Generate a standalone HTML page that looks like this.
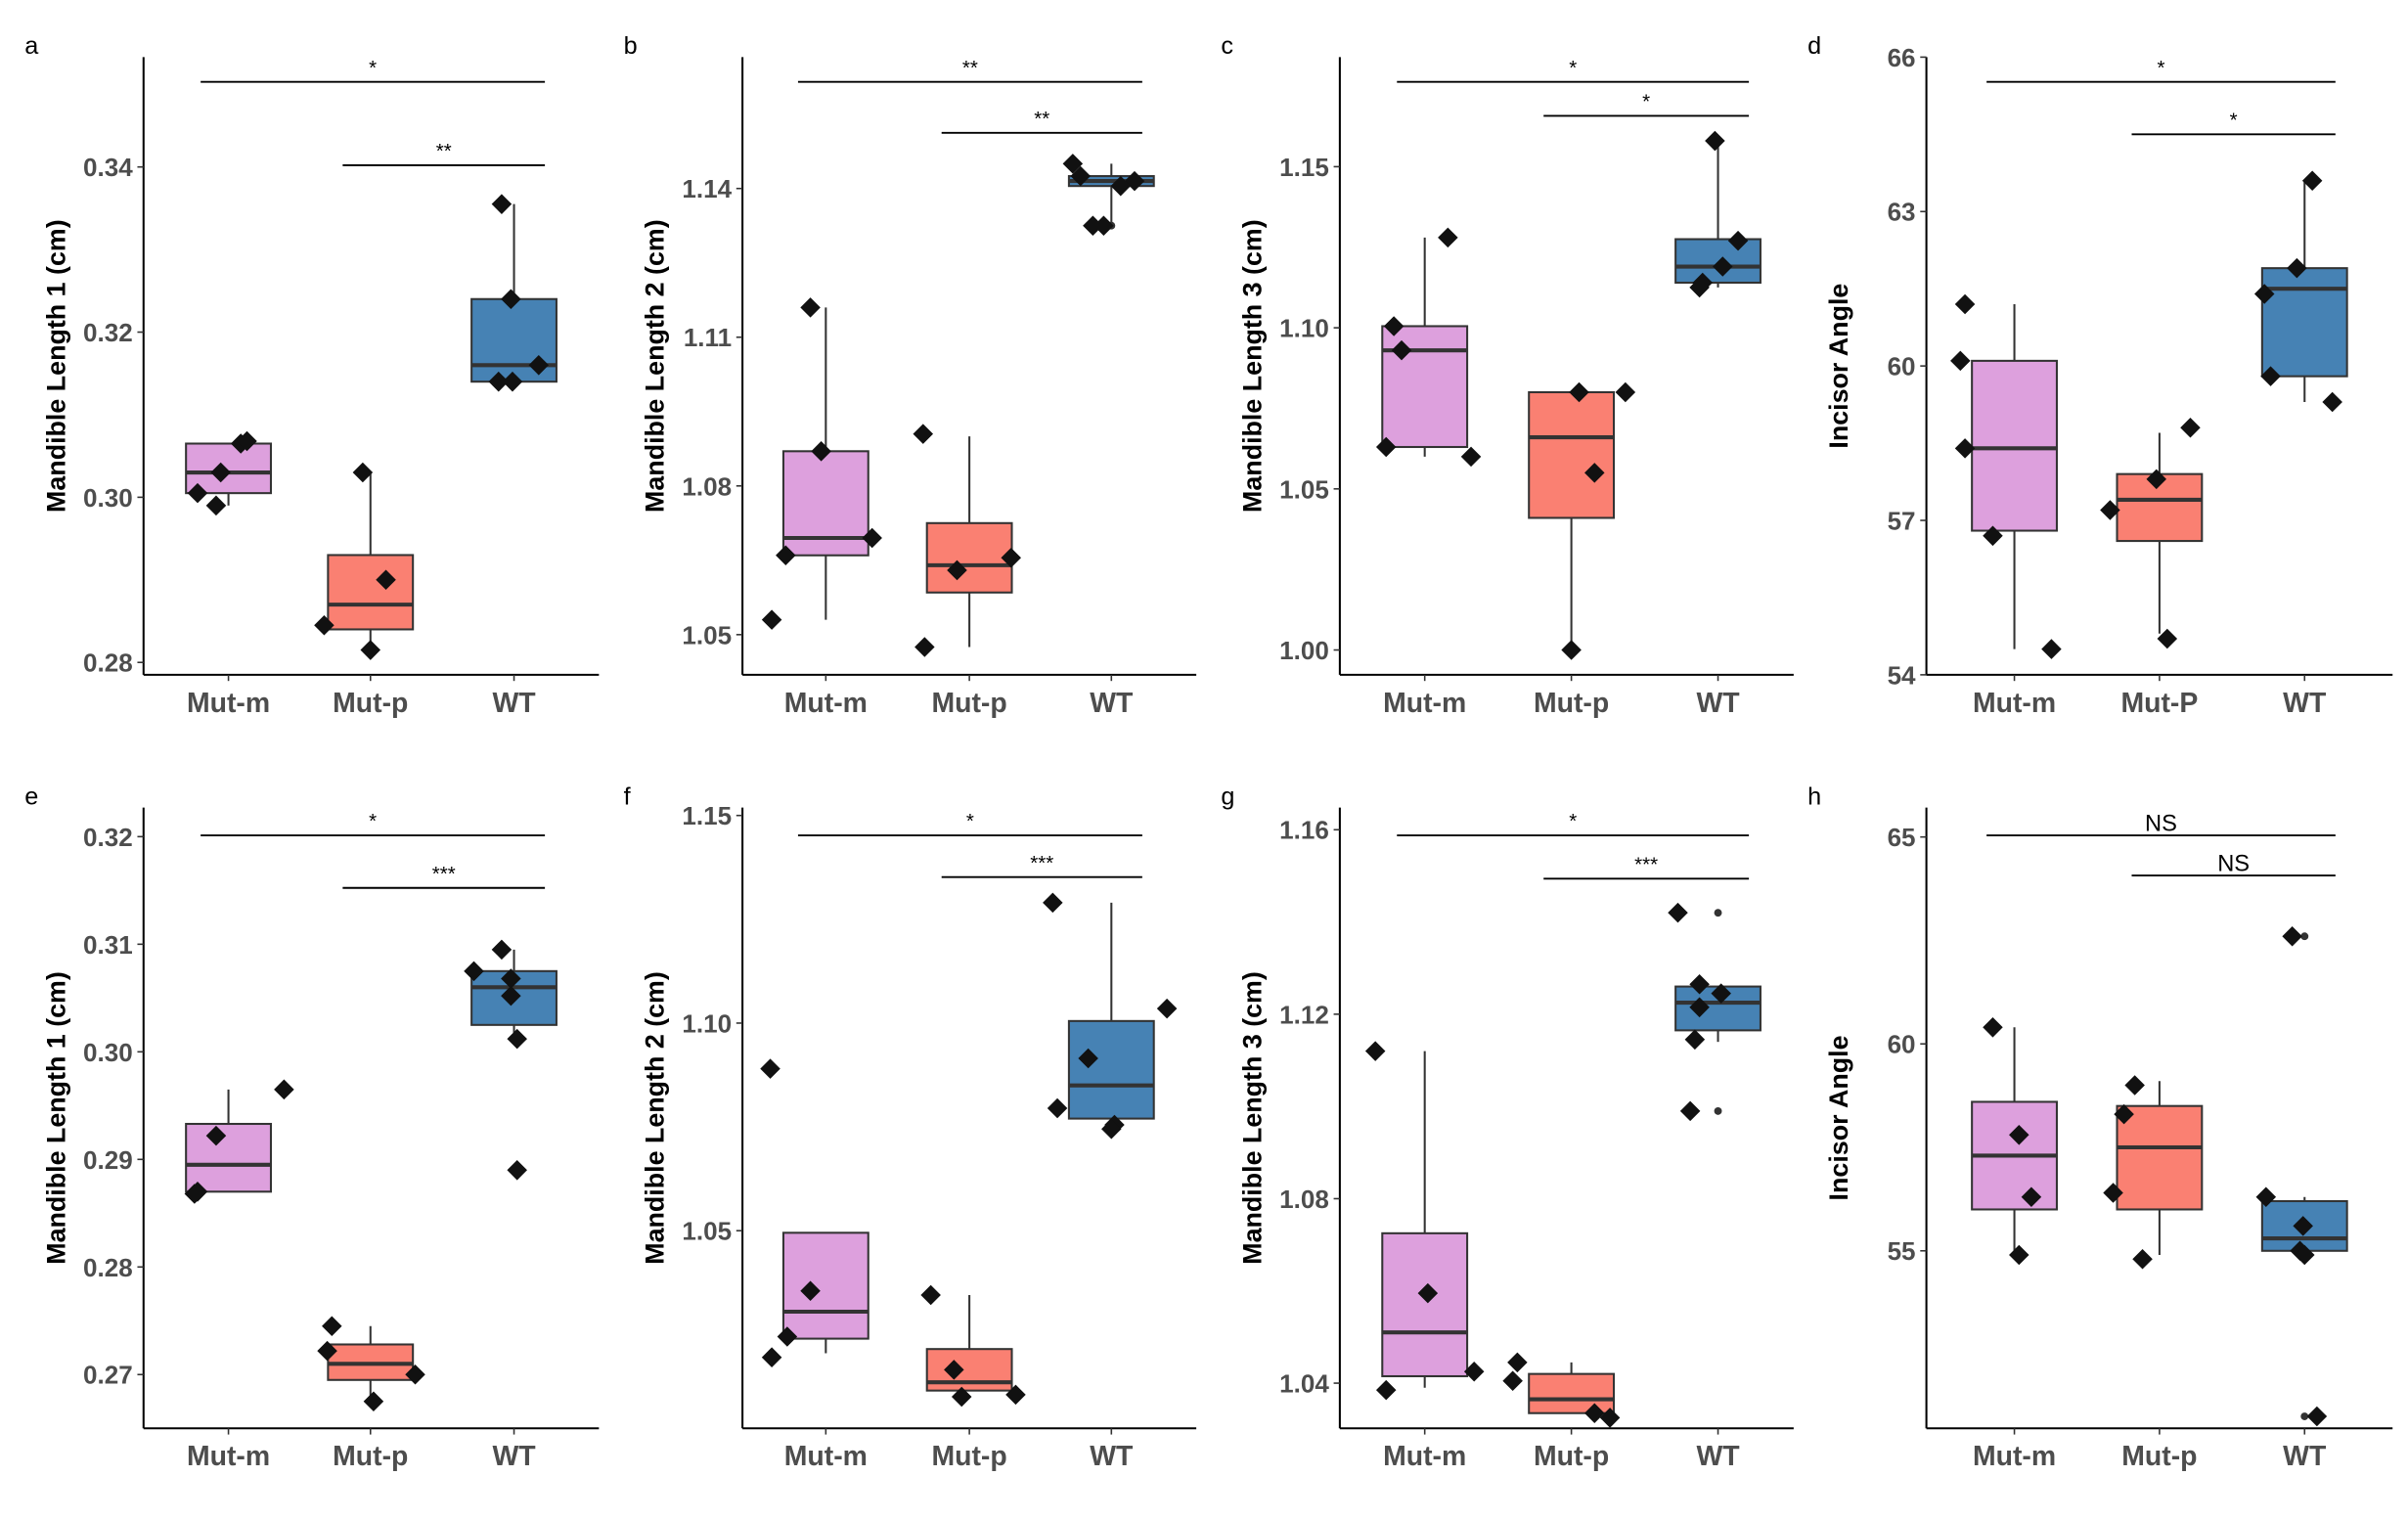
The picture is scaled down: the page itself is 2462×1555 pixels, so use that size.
<!DOCTYPE html>
<html><head><meta charset="utf-8"><style>
html,body{margin:0;padding:0;background:#fff;}
svg{display:block;}
text{font-family:"Liberation Sans",Arial,sans-serif;}
</style></head><body>
<svg id="fig" width="2462" height="1555" viewBox="0 0 1560 985" preserveAspectRatio="none" xmlns="http://www.w3.org/2000/svg"></svg>
<script>
const categories = ["Mut-m","Mut-p","WT"];
const panelLetters = ["a","b","c","d","e","f","g","h"];
const yTitles = ["Mandible Length 1 (cm)","Mandible Length 2 (cm)","Mandible Length 3 (cm)","Incisor Angle","Mandible Length 1 (cm)","Mandible Length 2 (cm)","Mandible Length 3 (cm)","Incisor Angle"];
const catLabelsD = ["Mut-m","Mut-P","WT"];
// tick values per panel
const tickValues = [
 [0.28,0.30,0.32,0.34],[1.05,1.08,1.11,1.14],[1.00,1.05,1.10,1.15],[54,57,60,63,66],
 [0.27,0.28,0.29,0.30,0.31,0.32],[1.05,1.10,1.15],[1.04,1.08,1.12,1.16],[55,60,65]];
const tickLabels = [
 ["0.28","0.30","0.32","0.34"],["1.05","1.08","1.11","1.14"],["1.00","1.05","1.10","1.15"],["54","57","60","63","66"],
 ["0.27","0.28","0.29","0.30","0.31","0.32"],["1.05","1.10","1.15"],["1.04","1.08","1.12","1.16"],["55","60","65"]];
// y domain per panel [min at axis bottom, max at axis top]
const yDomain = [[0.2785,0.3533],[1.0419,1.1665],[0.9923,1.184],[54.0,66.0],[0.265,0.3227],[1.0024,1.1519],[1.0302,1.1648],[50.71,65.71]];
// box stats per panel per category: [whiskerLow, q1, median, q3, whiskerHigh]
const boxStats = [
 [[0.299,0.3005,0.303,0.3065,0.3065],[0.2815,0.284,0.287,0.293,0.303],[0.314,0.314,0.316,0.324,0.3355]],
 [[1.053,1.066,1.0695,1.087,1.116],[1.0475,1.0585,1.064,1.0725,1.090],[1.1325,1.1405,1.1415,1.1425,1.145]],
 [[1.060,1.063,1.093,1.1005,1.128],[1.000,1.041,1.066,1.080,1.080],[1.1125,1.114,1.119,1.1275,1.158]],
 [[54.5,56.8,58.4,60.1,61.2],[54.8,56.6,57.4,57.9,58.7],[59.3,59.8,61.5,61.9,63.6]],
 [[0.287,0.287,0.2895,0.2933,0.2965],[0.2675,0.2695,0.271,0.2728,0.2745],[0.3015,0.3025,0.306,0.3075,0.3095]],
 [[1.0205,1.024,1.0305,1.0495,1.0495],[1.0115,1.0115,1.0135,1.0215,1.0345],[1.074,1.077,1.085,1.1005,1.129]],
 [[1.039,1.0415,1.051,1.0725,1.112],[1.0335,1.0335,1.0365,1.042,1.0445],[1.114,1.1165,1.1225,1.126,1.126]],
 [[55.0,56.0,57.3,58.6,60.4],[54.9,56.0,57.5,58.5,59.1],[55.0,55.0,55.3,56.2,56.3]]];
// individual observations
const pointValues = [
 [[0.3005,0.299,0.303,0.3065,0.3068],[0.303,0.2845,0.290,0.2815],[0.3355,0.324,0.316,0.314,0.314]],
 [[1.116,1.087,1.0695,1.066,1.053],[1.0905,1.063,1.0655,1.0475],[1.145,1.1425,1.1415,1.1405,1.1325,1.1325]],
 [[1.128,1.1005,1.093,1.063,1.060],[1.080,1.080,1.055,1.000],[1.158,1.127,1.119,1.114,1.1125]],
 [[61.2,60.1,58.4,56.7,54.5],[58.8,57.8,57.2,54.7],[63.6,61.9,61.4,59.8,59.3]],
 [[0.2965,0.2922,0.287,0.2868],[0.2745,0.2722,0.2675,0.270],[0.3095,0.3075,0.3068,0.3052,0.3012,0.289]],
 [[1.089,1.0355,1.0245,1.0195],[1.0345,1.0165,1.010,1.0105],[1.129,1.1035,1.0915,1.0795,1.0755,1.0745]],
 [[1.112,1.0595,1.0425,1.0385],[1.0445,1.0405,1.0335,1.0325],[1.142,1.1265,1.1245,1.1215,1.1145,1.099]],
 [[60.4,57.8,56.3,54.9],[59.0,58.3,56.4,54.8],[62.6,56.3,55.6,55.0,54.9,51.0]]];
const jitter = [
 [[-20,-8,-5,8,12],[-5,-30,10,0],[-8,-2,16,-10,-1]],
 [[-10,-3,30,-26,-35],[-30,-8,27,-29],[-25,-20,15,6,-12,-5]],
 [[15,-20,-15,-25,30],[5,35,15,0],[-2,13,3,-10,-12]],
 [[-32,-35,-32,-14,24],[20,-2,-32,5],[5,-5,-26,-22,18]],
 [[36,-8,-20,-22],[-25,-28,2,29],[-8,-26,-2,-2,2,2]],
 [[-36,-10,-25,-35],[-25,-10,-5,30],[-38,36,-15,-35,2,0]],
 [[-32,2,32,-25],[-35,-38,15,25],[-26,-12,2,-12,-15,-18]],
 [[-14,3,11,3],[-16,-23,-30,-11],[-8,-25,-1,-3,0,8]]];
const outlierValues = [[],[],[],[],[],[],[],[]];
outlierValues[1] = [[],[],[1.1325]];
outlierValues[6] = [[],[],[1.142,1.099]];
outlierValues[7] = [[],[],[62.6,51.0]];
const sigLabels = [["*","**"],["**","**"],["*","*"],["*","*"],["*","***"],["*","***"],["*","***"],["NS","NS"]];
const sigLevels = [[53,107],[53,86],[53,75],[53,87],[541,575],[541,568],[541,569],[541,567]];
const fills = ["#DDA0DD","#FA8072","#4682B4"];

const NS="http://www.w3.org/2000/svg";
const svg=document.getElementById('fig');
function el(tag,attrs,parent,txt){const e=document.createElementNS(NS,tag);for(const k in attrs)e.setAttribute(k,attrs[k]);if(txt!==undefined)e.textContent=txt;(parent||svg).appendChild(e);return e;}
const axisXs=[93,481,868,1248];
const axisEnds=[388,775,1162,1550];
const catXs=[[148,240,333],[535,628,720],[923,1018,1113],[1305,1399,1493]];
const rowTop=[37,523], rowBot=[437,925];
for(let p=0;p<8;p++){
 const col=p%4,row=Math.floor(p/4);
 const g=el('g',{});
 
 
 const top=rowTop[row],bot=rowBot[row],ax=axisXs[col];
 const y=v=>bot-(v-yDomain[p][0])/(yDomain[p][1]-yDomain[p][0])*(bot-top);
 const x=i=>catXs[col][i];
 const lt=el('text',{x:ax-77,y:top-2,'font-size':16},g,panelLetters[p]);
 
 const ya=el('line',{x1:ax,y1:top,x2:ax,y2:bot,stroke:'#000','stroke-width':1.3},g);
 
 const xa=el('line',{x1:ax,y1:bot,x2:axisEnds[col],y2:bot,stroke:'#000','stroke-width':1.3},g);
 
 tickValues[p].forEach((v,i)=>{
  el('line',{x1:ax-4,y1:y(v),x2:ax,y2:y(v),stroke:'#333','stroke-width':1},g);
  const t=el('text',{x:ax-7,y:y(v)+6,'font-size':16.5,'font-weight':'bold',fill:'#4d4d4d','text-anchor':'end'},g,tickLabels[p][i]);
  
 });
 const yt=el('text',{transform:`translate(${ax-51},${(top+bot)/2}) rotate(-90)`,'font-size':17,'font-weight':'bold','text-anchor':'middle'},g,yTitles[p]);
 
 categories.forEach((c,i)=>{
  el('line',{x1:x(i),y1:bot,x2:x(i),y2:bot+4,stroke:'#333','stroke-width':1},g);
  const t=el('text',{x:x(i),y:bot+24,'font-size':18,'font-weight':'bold',fill:'#4d4d4d','text-anchor':'middle'},g,p===3?catLabelsD[i]:c);
  
  const s=boxStats[p][i];const bw=55;
  el('line',{x1:x(i),y1:y(s[0]),x2:x(i),y2:y(s[4]),stroke:'#333','stroke-width':1.3},g);
  const r=el('rect',{x:x(i)-bw/2,y:y(s[3]),width:bw,height:Math.max(1,y(s[1])-y(s[3])),fill:fills[i],stroke:'#333','stroke-width':1.3},g);
  
  el('line',{x1:x(i)-bw/2,y1:y(s[2]),x2:x(i)+bw/2,y2:y(s[2]),stroke:'#333','stroke-width':2.6},g);
  (outlierValues[p][i]||[]).forEach(v=>{
   const o=el('circle',{cx:x(i),cy:y(v),r:2.5,fill:'#333'},g);
   
  });
  pointValues[p][i].forEach((v,k)=>{
   const px=x(i)+jitter[p][i][k],py=y(v),d=6.5;
   const m=el('polygon',{points:`${px},${py-d} ${px+d},${py} ${px},${py+d} ${px-d},${py}`,fill:'#111'},g);
   
  });
 });
 const pairs=[[0,2],[1,2]];
 pairs.forEach((pr,k)=>{
  const ly=sigLevels[p][k];
  const x1=x(pr[0])-18,x2=x(pr[1])+20;
  const l=el('line',{x1:x1,y1:ly,x2:x2,y2:ly,stroke:'#000','stroke-width':1.2},g);
  
  const isNS=sigLabels[p][k]==='NS';
  const t=el('text',{x:(x1+x2)/2,y:isNS?ly-3:ly-5,'font-size':isNS?15:13,'text-anchor':'middle'},g,sigLabels[p][k]);
  
 });
}
</script>
</body></html>
